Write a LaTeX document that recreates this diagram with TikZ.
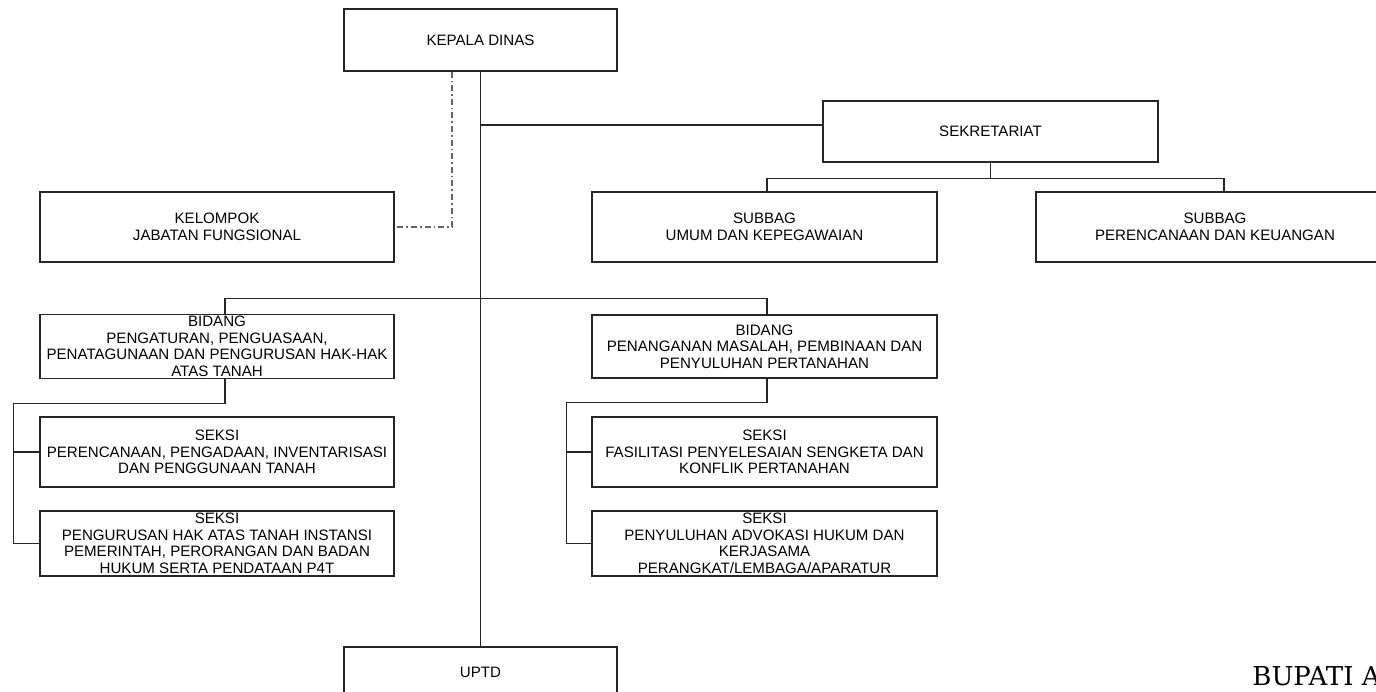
\documentclass[tikz,border=0pt]{standalone}
\usepackage{fontspec}
\setmainfont{Liberation Sans}
\newfontfamily\serifbupati{DejaVu Serif}
\usepackage{tikz}

\begin{document}
\begin{tikzpicture}[x=0.5pt,y=-0.5pt]
    \tikzstyle{unit}=[draw=black!85,line width=0.6pt,align=center,inner sep=1pt,font=\fontsize{7.55}{8.25}\selectfont]
    \tikzstyle{link}=[draw=black!85,line width=0.6pt]
    \tikzstyle{staff}=[draw=black!60,line width=0.6pt,dash pattern=on 3pt off 1.5pt on 0.8pt off 1.5pt]
    \useasboundingbox (0,0) rectangle (1376,691);
    \clip (0,0) rectangle (1376,691);
    \node (kepala)[unit,minimum width=136.5pt,minimum height=31pt] at (480.5,40) {KEPALA DINAS};
    \node (sekre)[unit,minimum width=167.5pt,minimum height=30.5pt] at (990.5,131.5) {SEKRETARIAT};
    \node (kelompok)[unit,minimum width=177pt,minimum height=35pt] at (217,227) {KELOMPOK\\JABATAN FUNGSIONAL};
    \node (umum)[unit,minimum width=172.5pt,minimum height=35pt] at (764.5,227) {SUBBAG\\UMUM DAN KEPEGAWAIAN};
    \node (renkeu)[unit,minimum width=179pt,minimum height=35pt] at (1215,227) {SUBBAG\\PERENCANAAN DAN KEUANGAN};
    \node (bidL)[unit,minimum width=177pt,minimum height=31.5pt] at (217,346.5) {BIDANG\\PENGATURAN, PENGUASAAN,\\PENATAGUNAAN DAN PENGURUSAN HAK-HAK\\ATAS TANAH};
    \node (sek1L)[unit,minimum width=177pt,minimum height=35pt] at (217,452) {SEKSI\\PERENCANAAN, PENGADAAN, INVENTARISASI\\DAN PENGGUNAAN TANAH};
    \node (sek2L)[unit,minimum width=177pt,minimum height=32.5pt] at (217,543.5) {SEKSI\\PENGURUSAN HAK ATAS TANAH INSTANSI\\PEMERINTAH, PERORANGAN DAN BADAN\\HUKUM SERTA PENDATAAN P4T};
    \node (bidR)[unit,minimum width=172.5pt,minimum height=31.5pt] at (764.5,346.5) {BIDANG\\PENANGANAN MASALAH, PEMBINAAN DAN\\PENYULUHAN PERTANAHAN};
    \node (sek1R)[unit,minimum width=172.5pt,minimum height=35pt] at (764.5,452) {SEKSI\\FASILITASI PENYELESAIAN SENGKETA DAN\\KONFLIK PERTANAHAN};
    \node (sek2R)[unit,minimum width=172.5pt,minimum height=32.5pt] at (764.5,543.5) {SEKSI\\PENYULUHAN ADVOKASI HUKUM DAN\\KERJASAMA\\PERANGKAT/LEMBAGA/APARATUR};
    \node (uptd)[unit,minimum width=136.5pt,minimum height=25pt] at (480.5,672) {UPTD};
    \node (bupati)[anchor=base west,inner sep=0pt,font=\serifbupati\fontsize{13}{15}\selectfont] at (1252,685) {BUPATI A};
    % garis komando
    \draw[link] (kepala.south) -- (uptd.north);
    \draw[link] (kepala.south |- sekre.west) ++(0,3.25pt) -- ([yshift=3.25pt]sekre.west);
    \draw[link] (sekre.south) -- ++(0,-8pt) coordinate (sk);
    \draw[link] ([xshift=1.25pt]umum.north) |- (sk) -| ([xshift=4.5pt]renkeu.north);
    \draw[link] ([xshift=4pt]bidL.north) -- ++(0,7.5pt) -| ([xshift=1.25pt]bidR.north);
    \draw[link] ([xshift=4pt]bidL.south) -- ++(0,-12pt) -| ([xshift=-13pt]sek2L.west) -- (sek2L.west);
    \draw[link] ([xshift=-13pt]sek1L.west) -- (sek1L.west);
    \draw[link] ([xshift=1.25pt]bidR.south) -- ++(0,-12pt) -| ([xshift=-12.5pt]sek2R.west) -- (sek2R.west);
    \draw[link] ([xshift=-12.5pt]sek1R.west) -- (sek1R.west);
    % garis koordinasi
    \draw[staff] ([xshift=-14.25pt]kepala.south) |- (kelompok.east);
\end{tikzpicture}
\end{document}
